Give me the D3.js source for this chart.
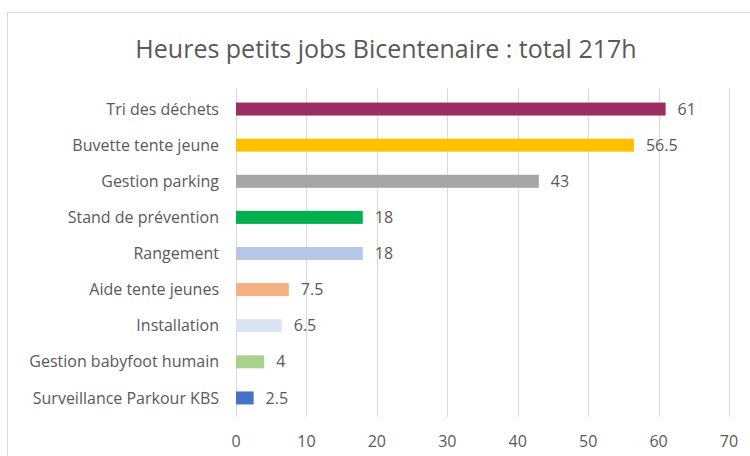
<!DOCTYPE html>
<html>
<head>
<meta charset="utf-8">
<script src="https://cdn.jsdelivr.net/npm/d3@7"></script>
<style>
  body { margin: 0; background: #fff; }
  text { font-family: 'Open Sans', 'Noto Sans', sans-serif; fill: #595959; }
</style>
</head>
<body>
<div id="chart"></div>
<script>
// chart data
const categories = [
  'Tri des déchets',
  'Buvette tente jeune',
  'Gestion parking',
  'Stand de prévention',
  'Rangement',
  'Aide tente jeunes',
  'Installation',
  'Gestion babyfoot humain',
  'Surveillance Parkour KBS'
]
const hours = [61, 56.5, 43, 18, 18, 7.5, 6.5, 4, 2.5]
const barColors = ['#9B2F62', '#FFC000', '#A5A5A5', '#00B050', '#B4C7E7', '#F4B183', '#DAE3F3', '#A9D18E', '#4472C4']
const xTicks = [0, 10, 20, 30, 40, 50, 60, 70]
const title = 'Heures petits jobs Bicentenaire : total 217h'

const width = 750
const height = 456

const svg = d3.select('#chart').append('svg')
  .attr('width', width)
  .attr('height', height)

// outer chart border (Excel frame)
svg.append('rect')
  .attr('x', 7.5).attr('y', 12.5)
  .attr('width', 760).attr('height', 460)
  .attr('fill', 'none')
  .attr('stroke', '#d9d9d9')

svg.append('text')
  .attr('x', 386).attr('y', 58)
  .attr('text-anchor', 'middle')
  .style('font-size', '25px')
  .text(title)

const x = d3.scaleLinear().domain([0, 70]).range([236, 729])
const y = d3.scaleBand().domain(categories).range([90, 415]).paddingInner(0.64).paddingOuter(0.32)

// gridlines
svg.append('g')
  .selectAll('line')
  .data(xTicks)
  .enter().append('line')
  .attr('x1', d => Math.round(x(d)) + 0.5)
  .attr('x2', d => Math.round(x(d)) + 0.5)
  .attr('y1', 88)
  .attr('y2', 417)
  .attr('stroke', '#d9d9d9')
  .attr('stroke-width', 1)

// tick labels
svg.append('g')
  .selectAll('text')
  .data(xTicks)
  .enter().append('text')
  .attr('x', d => x(d))
  .attr('y', 447)
  .attr('text-anchor', 'middle')
  .style('font-size', '16px')
  .text(d => d)

// bars
svg.append('g')
  .selectAll('rect')
  .data(hours)
  .enter().append('rect')
  .attr('x', x(0))
  .attr('y', (d, i) => y(categories[i]) + 1)
  .attr('width', d => x(d) - x(0))
  .attr('height', y.bandwidth())
  .attr('fill', (d, i) => barColors[i])

// category labels
svg.append('g')
  .selectAll('text')
  .data(categories)
  .enter().append('text')
  .attr('x', 219)
  .attr('y', d => y(d) + y.bandwidth() / 2 + 1)
  .attr('dy', '0.35em')
  .attr('text-anchor', 'end')
  .style('font-size', '16px')
  .text(d => d)

// value labels
svg.append('g')
  .selectAll('text')
  .data(hours)
  .enter().append('text')
  .attr('x', d => x(d) + 12)
  .attr('y', (d, i) => y(categories[i]) + y.bandwidth() / 2 + 1)
  .attr('dy', '0.35em')
  .style('font-size', '16px')
  .text(d => d)
</script>
</body>
</html>
